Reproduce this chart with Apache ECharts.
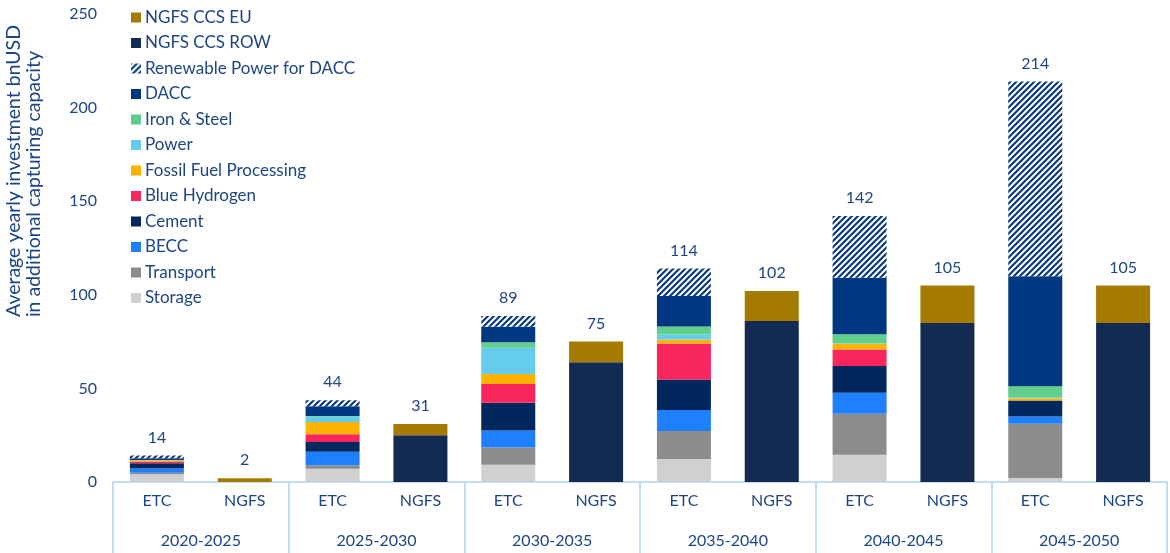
<!DOCTYPE html>
<html>
<head>
<meta charset="utf-8">
<script src="https://cdn.jsdelivr.net/npm/echarts@6/dist/echarts.min.js"></script>
<style>
  html, body { margin: 0; padding: 0; background: #fff; }
  #main { width: 1170px; height: 553px; }
</style>
</head>
<body>
<div id="main"></div>
<script>
// periods and bar names
var periods = ['2020-2025', '2025-2030', '2030-2035', '2035-2040', '2040-2045', '2045-2050'];
var scenarios = ['ETC', 'NGFS'];

// ETC bars, one value per period (bnUSD)
var storage   = [4.2, 7.1, 9.2, 12.3, 14.6, 2.1];
var transport = [0.7, 1.8, 9.2, 14.9, 21.9, 29.0];
var becc      = [2.3, 7.3, 9.1, 11.2, 11.2, 3.9];
var cement    = [2.8, 5.2, 14.8, 16.4, 14.2, 8.5];
var blueH2    = [0.9, 4.1, 10.1, 19.2, 8.9, 0];
var fossil    = [0.7, 6.6, 5.3, 2.1, 3.0, 1.2];
var power     = [0, 2.8, 14.0, 2.7, 0.3, 0.5];
var ironSteel = [0.2, 0.3, 3.0, 4.3, 4.8, 6.0];
var dacc      = [0.9, 5.3, 8.2, 16.2, 30.2, 58.7];
var renewDacc = [1.4, 3.2, 5.8, 14.7, 33.0, 104.0];

// NGFS bars
var ngfsRow = [0, 25, 64, 86, 85, 85];
var ngfsEu  = [2, 6, 11, 16, 20, 20];

// printed totals: ETC, NGFS per period
var totalsEtc  = [14, 44, 89, 114, 142, 214];
var totalsNgfs = [2, 31, 75, 102, 105, 105];

var textBlue = '#1c4587';

// striped fill for Renewable Power for DACC
function stripes() {
    var c = document.createElement('canvas');
    c.width = 6; c.height = 6;
    var g = c.getContext('2d');
    g.fillStyle = '#ffffff';
    g.fillRect(0, 0, 6, 6);
    g.strokeStyle = '#0a3a82';
    g.lineWidth = 2.2;
    g.beginPath();
    g.moveTo(-1, 7); g.lineTo(7, -1);
    g.moveTo(-4, 4); g.lineTo(4, -4);
    g.moveTo(2, 10); g.lineTo(10, 2);
    g.stroke();
    return { image: c, repeat: 'repeat' };
}

// interleave ETC / NGFS slots
function etcSlots(arr) {
    var out = [];
    for (var i = 0; i < arr.length; i++) { out.push(arr[i]); out.push(0); }
    return out;
}
function ngfsSlots(arr) {
    var out = [];
    for (var i = 0; i < arr.length; i++) { out.push(0); out.push(arr[i]); }
    return out;
}

var cats = [];
var totals = [];
for (var i = 0; i < periods.length; i++) {
    cats.push(scenarios[0]); cats.push(scenarios[1]);
    totals.push(totalsEtc[i]); totals.push(totalsNgfs[i]);
}

var stackDefs = [
    { name: 'Storage', data: etcSlots(storage), color: '#d0d0d0' },
    { name: 'Transport', data: etcSlots(transport), color: '#8c8c8c' },
    { name: 'BECC', data: etcSlots(becc), color: '#1e80ff' },
    { name: 'Cement', data: etcSlots(cement), color: '#00285e' },
    { name: 'Blue Hydrogen', data: etcSlots(blueH2), color: '#f8265d' },
    { name: 'Fossil Fuel Processing', data: etcSlots(fossil), color: '#fdb300' },
    { name: 'Power', data: etcSlots(power), color: '#66ccee' },
    { name: 'Iron & Steel', data: etcSlots(ironSteel), color: '#5fcf8b' },
    { name: 'DACC', data: etcSlots(dacc), color: '#003781' },
    { name: 'Renewable Power for DACC', data: etcSlots(renewDacc), color: stripes() },
    { name: 'NGFS CCS ROW', data: ngfsSlots(ngfsRow), color: '#132b52' },
    { name: 'NGFS CCS EU', data: ngfsSlots(ngfsEu), color: '#a47b00' }
];

var series = stackDefs.map(function (d) {
    return {
        name: d.name,
        type: 'bar',
        stack: 'all',
        barWidth: 54,
        xAxisIndex: 0,
        itemStyle: { color: d.color },
        emphasis: { disabled: true },
        data: d.data
    };
});

// zero-height top segment carrying the total label
series.push({
    name: 'total',
    type: 'bar',
    stack: 'all',
    barWidth: 54,
    xAxisIndex: 0,
    itemStyle: { color: 'transparent' },
    label: {
        show: true,
        position: 'top',
        distance: 10,
        color: textBlue,
        fontSize: 16,
        fontFamily: 'Lato',
        formatter: function (p) { return totals[p.dataIndex]; }
    },
    data: cats.map(function () { return 0; })
});

var legendNames = stackDefs.map(function (d) { return d.name; }).reverse();

var chart = echarts.init(document.getElementById('main'));
chart.setOption({
    animation: false,
    textStyle: { fontFamily: 'Lato' },
    grid: { left: 113, right: 3, top: 14, bottom: 71 },
    legend: {
        data: legendNames,
        orient: 'vertical',
        left: 126,
        top: 4,
        icon: 'rect',
        itemWidth: 10,
        itemHeight: 10,
        itemGap: 8.5,
        selectedMode: false,
        textStyle: { color: textBlue, fontSize: 17, lineHeight: 17, padding: [0, 0, 0, -1] }
    },
    xAxis: [
        {
            type: 'category',
            data: cats,
            axisLine: { show: true, lineStyle: { color: '#c6dbf5', width: 2 } },
            axisTick: { show: false },
            axisLabel: { color: textBlue, fontSize: 16, margin: 11, interval: 0 }
        },
        {
            type: 'category',
            data: periods,
            position: 'bottom',
            axisLine: { show: false },
            axisTick: { show: true, length: 71, interval: 0, lineStyle: { color: '#c6dbf5', width: 2 } },
            axisLabel: { color: textBlue, fontSize: 16, margin: 51, interval: 0 }
        }
    ],
    yAxis: {
        type: 'value',
        min: 0,
        max: 250,
        interval: 50,
        splitLine: { show: false },
        axisLine: { show: false },
        axisTick: { show: false },
        axisLabel: { color: textBlue, fontSize: 16, margin: 16 }
    },
    graphic: [
        {
            type: 'text',
            x: 14, y: 171,
            rotation: Math.PI / 2,
            style: {
                text: 'Average yearly investment bnUSD',
                fill: textBlue, fontSize: 19.5, fontFamily: 'Lato',
                align: 'center', verticalAlign: 'middle'
            }
        },
        {
            type: 'text',
            x: 34, y: 184,
            rotation: Math.PI / 2,
            style: {
                text: 'in additional capturing capacity',
                fill: textBlue, fontSize: 19.5, fontFamily: 'Lato',
                align: 'center', verticalAlign: 'middle'
            }
        }
    ],
    series: series
});
</script>
</body>
</html>
